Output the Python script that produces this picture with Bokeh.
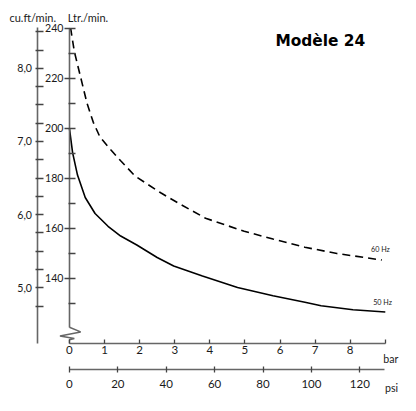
from bokeh.plotting import figure
from bokeh.models import LinearAxis, FixedTicker, Range1d
from bokeh.core.properties import value
from bokeh.embed import file_html
from bokeh.resources import INLINE

# ---- data ----
bar_50 = [0, 0.09, 0.23, 0.45, 0.73, 1.1, 1.46, 1.92, 2.5, 2.97, 3.79, 4.79, 5.8, 6.71, 7.17, 8.08, 9.0]
ltr_50 = [200, 190.3, 181.3, 172.3, 165.9, 160.8, 156.9, 153.3, 148.3, 144.9, 140.9, 136.3, 133.0, 130.4, 129.0, 127.4, 126.5]

bar_60 = [0, 0.04, 0.14, 0.32, 0.5, 0.68, 0.87, 1.19, 1.46, 1.87, 2.6, 3.15, 3.88, 4.98, 5.8, 6.71, 7.62, 8.9]
ltr_60 = [240, 239.6, 230.7, 220.4, 210.1, 202.4, 196.5, 191.2, 187.0, 180.9, 174.2, 169.7, 164.0, 158.8, 155.7, 152.4, 149.9, 147.3]

ltr_major = [140, 160, 180, 200, 220, 240]
ltr_minor = [130, 150, 170, 190, 210, 230]
cuft_major = [5.0, 6.0, 7.0, 8.0]
cuft_labels = ["5,0", "6,0", "7,0", "8,0"]
cuft_minor = [4.75, 5.25, 5.5, 5.75, 6.25, 6.5, 6.75, 7.25, 7.5, 7.75, 8.25, 8.5]
bar_ticks = [0, 1, 2, 3, 4, 5, 6, 7, 8, 9]
bar_labels = ["0", "1", "2", "3", "4", "5", "6", "7", "8", ""]
psi_ticks = [0, 20, 40, 60, 80, 100, 120]
psi_labels = ["0", "20", "40", "60", "80", "100", "120"]

series_names = ["60 Hz", "50 Hz"]

PSI_PER_BAR = 14.5038
LTR_PER_CUFT = 29.27
CUFT_REF_LTR = 136.2


def to_cuft(l):
    return 5.0 + (l - CUFT_REF_LTR) / LTR_PER_CUFT


X0, X1 = -1.964, 9.433
Y0, Y1 = 93.08, 251.15

p = figure(width=400, height=395, x_range=Range1d(X0, X1), y_range=Range1d(Y0, Y1),
           x_axis_type=None, y_axis_type=None, output_backend="svg",
           toolbar_location=None, min_border=0, outline_line_color=None)
p.extra_y_ranges = {"cuft": Range1d(to_cuft(Y0), to_cuft(Y1))}
p.extra_x_ranges = {"psi": Range1d(X0 * PSI_PER_BAR, X1 * PSI_PER_BAR)}

AX = "#666666"
TK = "#444444"
TXT = "#1a1a1a"
FONT = "Lato"


def style(ax, size):
    ax.axis_line_color = AX
    ax.axis_line_width = 1.6
    ax.major_tick_line_color = TK
    ax.minor_tick_line_color = TK
    ax.major_tick_line_width = 1.3
    ax.minor_tick_line_width = 1.3
    ax.major_label_text_font = FONT
    ax.major_label_text_font_size = size
    ax.major_label_text_color = TXT


BAR_AXIS_L = 113.85
PSI_AXIS_L = 103.46
CUFT_AXIS_X = -0.896

# Ltr/min axis
ltr_axis = LinearAxis(ticker=FixedTicker(ticks=ltr_major, minor_ticks=ltr_minor),
                      fixed_location=0, bounds=(120.4, 240))
style(ltr_axis, "10.6px")
ltr_axis.major_tick_in = 6
ltr_axis.major_tick_out = 5
ltr_axis.minor_tick_in = 6
ltr_axis.minor_tick_out = 1
ltr_axis.major_label_standoff = 1
p.add_layout(ltr_axis, "left")

# cu.ft/min axis
cu_axis = LinearAxis(y_range_name="cuft",
                     ticker=FixedTicker(ticks=cuft_major, minor_ticks=cuft_minor),
                     fixed_location=CUFT_AXIS_X, bounds=(4.236, 8.559),
                     major_label_overrides={t: l for t, l in zip(cuft_major, cuft_labels)})
style(cu_axis, "10.6px")
cu_axis.major_tick_in = 6
cu_axis.major_tick_out = 2
cu_axis.minor_tick_in = 6
cu_axis.minor_tick_out = 2
cu_axis.major_label_standoff = 4
p.add_layout(cu_axis, "left")

# bar axis
bar_axis = LinearAxis(ticker=FixedTicker(ticks=bar_ticks, minor_ticks=[]),
                      fixed_location=BAR_AXIS_L, bounds=(0, 9),
                      major_label_overrides={t: l for t, l in zip(bar_ticks, bar_labels)})
style(bar_axis, "11.5px")
bar_axis.major_tick_in = 4
bar_axis.major_tick_out = 0
bar_axis.major_label_standoff = 2
p.add_layout(bar_axis, "below")

# psi axis
psi_axis = LinearAxis(x_range_name="psi", ticker=FixedTicker(ticks=psi_ticks, minor_ticks=[]),
                      fixed_location=PSI_AXIS_L, bounds=(0, 130),
                      major_label_overrides={t: l for t, l in zip(psi_ticks, psi_labels)})
style(psi_axis, "11.5px")
psi_axis.major_tick_in = 3
psi_axis.major_tick_out = 3
psi_axis.major_label_standoff = 7
p.add_layout(psi_axis, "below")

# axis break symbol between Ltr axis and bar axis
break_dx = [0, 0.32, -0.27, 0.14, 0, 0]
break_l = [120.4, 118.5, 116.9, 115.9, 115.4, BAR_AXIS_L]
p.line(break_dx, break_l, line_color=AX, line_width=1.4)

# curves
p.line(bar_60, ltr_60, line_color="black", line_width=1.6, line_dash="8 5")
p.line(bar_50, ltr_50, line_color="black", line_width=1.6)

# texts
p.text(x=[-1.709, -0.047], y=[244.4, 244.4], text=["cu.ft/min.", "Ltr./min."],
       text_font=value(FONT), text_font_size=value("11px"), text_color=TXT,
       text_align="left", text_baseline="alphabetic")
p.text(x=[5.87], y=[235.1], text=["Modèle 24"], text_font=value("DejaVu Sans"),
       text_font_size=value("15.4px"), text_font_style="bold", text_color="black",
       text_align="left", text_baseline="alphabetic")
p.text(x=[9.13, 9.19], y=[151.4, 130.4], text=series_names,
       text_font=value(FONT), text_font_size=value("7.2px"), text_color=TXT,
       text_align="right", text_baseline="alphabetic")
p.text(x=[8.94, 8.99], y=[107.6, 95.9], text=["bar", "psi"],
       text_font=value(FONT), text_font_size=value("10.6px"), text_color=TXT,
       text_align="left", text_baseline="alphabetic")

open("out.html", "w").write(file_html(p, INLINE))
